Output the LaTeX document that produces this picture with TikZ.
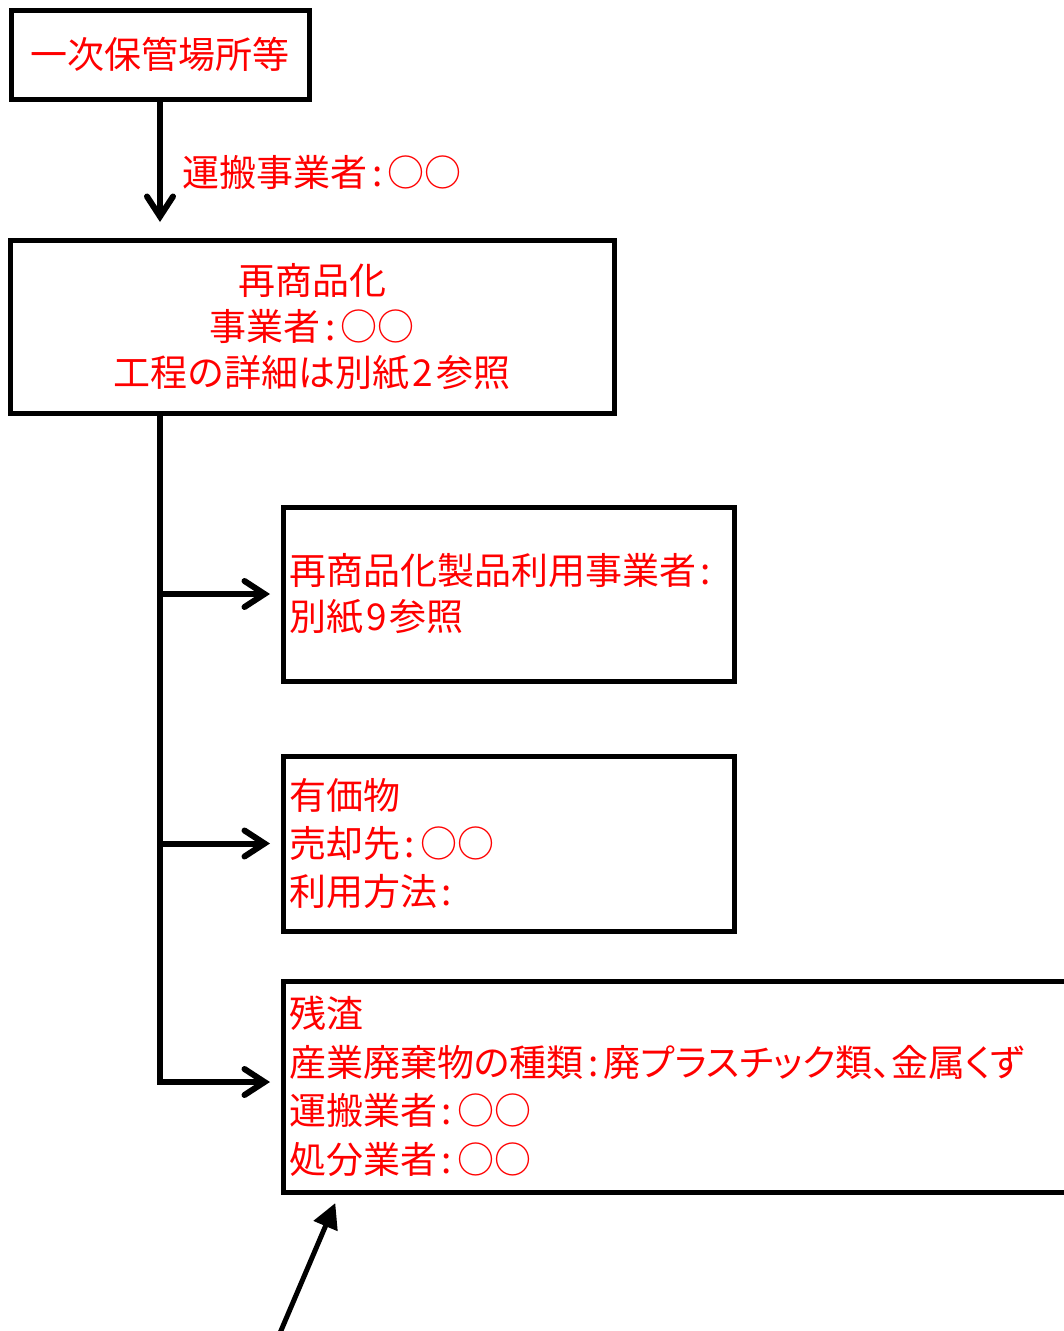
\documentclass[tikz,border=0pt]{standalone}
\usepackage{fontspec}
\setmainfont{Noto Sans CJK JP}
\newfontfamily\paltfont{Noto Sans CJK JP}[RawFeature=+palt]
\newcommand\cln{\hspace{5pt}:\hspace{5pt}}
\newcommand\dgt[1]{\hspace{3pt}#1\hspace{3pt}}
\usetikzlibrary{arrows.meta,calc}
\begin{document}
\begin{tikzpicture}[x=1pt,y=-1pt,
    box/.style = {rectangle,draw=black,line width=5pt,outer sep=0mm,inner xsep=6pt,text=red,font=\fontsize{37}{46}\selectfont},
    note/.style = {inner sep=0pt,text=red,font=\fontsize{37}{46}\selectfont},
    flow/.style = {line width=6pt,-{Straight Barb[length=20pt,width=26pt,line cap=round]}}]
\path[use as bounding box,clip] (0,0) rectangle (1064,1331);
\node[box,minimum width=298pt,minimum height=89pt] (store) at (160,54.5) {一次保管場所等};
\node[box,minimum width=604pt,minimum height=173pt,align=center] (recycle) at (312,326.5)
    {再商品化\\事業者\cln○○\\工程の詳細は別紙\dgt{2}参照};
\node[box,minimum width=451pt,minimum height=174pt,text width=439pt,align=left] (user) at (508.5,594)
    {再商品化製品利用事業者\cln\\別紙\dgt{9}参照};
\node[box,minimum width=451pt,minimum height=175pt,text width=439pt,align=left,font=\fontsize{37}{48}\selectfont] (valuable) at (508.5,843.5)
    {有価物\\売却先\cln○○\\利用方法\cln};
\node[box,minimum width=807pt,minimum height=211pt,text width=795pt,align=left,font=\fontsize{37}{48.5}\selectfont] (residue) at (686.5,1086.5)
    {残渣\\{\paltfont 産業廃棄物の種類\cln 廃プラスチック類、金属くず}\\運搬業者\cln○○\\処分業者\cln○○};
\node[note,anchor=west] (carrier) at (182,172) {運搬事業者\cln○○};
% trunk and branches
\coordinate (bend) at (160,1082);
\coordinate (tail) at (277,1340);
\draw[flow,shorten >=18pt] (store.south) -- (store.south |- recycle.north);
\draw[flow,shorten >=13pt] (user.west -| bend) -- (user.west);
\draw[flow,shorten >=13pt] (valuable.west -| bend) -- (valuable.west);
\draw[flow,shorten >=13pt] (recycle.south -| bend) -- (bend) -- (bend -| residue.west);
\draw[line width=5pt,-{Triangle[length=25pt,width=25pt]},shorten >=12pt] (tail) -- ($(residue.south west)+(57,0)$);
\end{tikzpicture}
\end{document}
